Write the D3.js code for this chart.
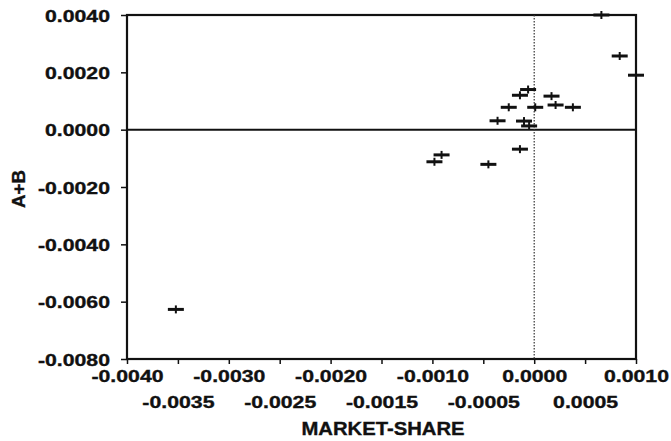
<!DOCTYPE html>
<html>
<head>
    <meta charset="utf-8">
    <title>A+B vs MARKET-SHARE</title>
    <script src="https://cdnjs.cloudflare.com/ajax/libs/d3/7.8.5/d3.min.js"></script>
    <style>
        body { margin: 0; background: #fff; }
        text { font-family: "Liberation Sans", Arial, sans-serif; font-weight: bold; fill: #111; stroke: #111; stroke-width: 0.35px; }
    </style>
</head>
<body>
<svg id="chart" width="671" height="441"></svg>
<script>
    // market share (x) and A+B (y)
    var shareVals = [0.00066, 0.00084, 0.00100, -0.00006, -0.00014, 0.00017, -0.00025, 0.00001, 0.00021,
                     0.00038, -0.00036, -0.00010, -0.00005, -0.00098, -0.00091, -0.00045, -0.00014, -0.00352];
    var abVals = [0.00400, 0.00257, 0.00190, 0.00140, 0.00120, 0.00117, 0.00078, 0.00078, 0.00086,
                  0.00078, 0.00031, 0.00030, 0.00013, -0.00112, -0.00088, -0.00121, -0.00068, -0.00627];
    var xTicks = [-0.0040, -0.0035, -0.0030, -0.0025, -0.0020, -0.0015, -0.0010, -0.0005, 0.0000, 0.0005, 0.0010];
    var yTicks = [0.0040, 0.0020, 0.0000, -0.0020, -0.0040, -0.0060, -0.0080];

    var svg = d3.select("#chart");
    var plotL = 127, plotR = 636, plotT = 15, plotB = 359;

    var x = d3.scaleLinear().domain([-0.004, 0.001]).range([plotL, plotR]);
    var y = d3.scaleLinear().domain([-0.008, 0.004]).range([plotB, plotT]);
    var fmt = function(d) { return d3.format(".4f")(d).replace("\u2212", "-"); };
    var stretch = 1.25;

    // frame
    svg.append("rect")
        .attr("x", plotL).attr("y", plotT)
        .attr("width", plotR - plotL).attr("height", plotB - plotT)
        .attr("fill", "none").attr("stroke", "#111").attr("stroke-width", 2.2);

    // zero reference lines
    svg.append("line")
        .attr("x1", plotL).attr("x2", plotR)
        .attr("y1", y(0)).attr("y2", y(0))
        .attr("stroke", "#111").attr("stroke-width", 2);
    svg.append("line")
        .attr("x1", x(0)).attr("x2", x(0))
        .attr("y1", plotT).attr("y2", plotB)
        .attr("stroke", "#333").attr("stroke-width", 1.2)
        .attr("stroke-dasharray", "1.5,1.5");

    // y axis
    var yAxis = svg.append("g")
        .attr("transform", "translate(" + plotL + ",0)")
        .call(d3.axisLeft(y).tickValues(yTicks).tickSize(6).tickSizeOuter(0).tickPadding(11).tickFormat(fmt));
    yAxis.select(".domain").remove();
    yAxis.selectAll("line").attr("stroke", "#111").attr("stroke-width", 1.5);
    yAxis.selectAll("text")
        .attr("font-size", 17).attr("dy", "0.36em")
        .style("font-family", "'Liberation Sans', Arial, sans-serif").style("font-weight", "bold");

    // x axis
    var xAxis = svg.append("g")
        .attr("transform", "translate(0," + plotB + ")")
        .call(d3.axisBottom(x).tickValues(xTicks).tickSize(5).tickSizeOuter(0).tickFormat(fmt));
    xAxis.select(".domain").remove();
    xAxis.selectAll("line").attr("stroke", "#111").attr("stroke-width", 1.5);
    xAxis.selectAll("text")
        .attr("font-size", 17)
        .attr("dy", 0)
        .attr("y", function(d, i) { return i % 2 === 0 ? 23 : 49; })
        .style("font-family", "'Liberation Sans', Arial, sans-serif").style("font-weight", "bold");

    // widen tick labels to match the stretched print
    svg.selectAll(".tick text").each(function() {
        var w = this.getComputedTextLength();
        d3.select(this).attr("textLength", w * stretch).attr("lengthAdjust", "spacingAndGlyphs");
    });

    // axis titles
    svg.append("text")
        .attr("x", 383).attr("y", 435)
        .attr("text-anchor", "middle")
        .attr("font-size", 18)
        .attr("textLength", 163).attr("lengthAdjust", "spacingAndGlyphs")
        .text("MARKET-SHARE");
    svg.append("text")
        .attr("transform", "translate(25,189) rotate(-90)")
        .attr("text-anchor", "middle")
        .attr("font-size", 18)
        .attr("textLength", 38).attr("lengthAdjust", "spacingAndGlyphs")
        .text("A+B");

    // cross markers
    var pts = shareVals.map(function(v, i) { return [v, abVals[i]]; });
    var marks = svg.append("g").selectAll("g").data(pts).enter().append("g")
        .attr("transform", function(d) { return "translate(" + x(d[0]) + "," + y(d[1]) + ")"; });
    marks.append("line")
        .attr("x1", -8).attr("x2", 8).attr("y1", 0).attr("y2", 0)
        .attr("stroke", "#111").attr("stroke-width", 3);
    marks.append("line")
        .attr("x1", 0).attr("x2", 0).attr("y1", -4).attr("y2", 4)
        .attr("stroke", "#111").attr("stroke-width", 2);
</script>
</body>
</html>
